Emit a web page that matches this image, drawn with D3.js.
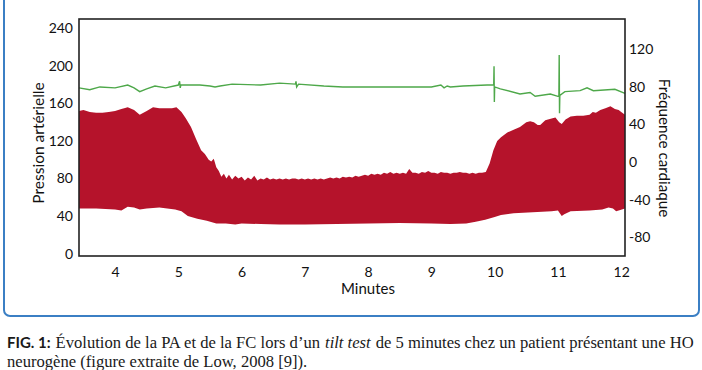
<!DOCTYPE html>
<html>
<head>
<meta charset="utf-8">
<script src="https://cdn.jsdelivr.net/npm/d3@7"></script>
<style>
  body { margin: 0; background: #fff; }
  svg text { font-family: Lato, "Open Sans", sans-serif; fill: #111; }
  .cap { font-family: "Liberation Serif", "DejaVu Serif", serif; font-size: 16.6px; fill: #1a1a1a; }
</style>
</head>
<body>
<div id="chart"></div>
<script>
// minutes on the x axis
var xTicks = [4, 5, 6, 7, 8, 9, 10, 11, 12];
var leftTicks = [0, 40, 80, 120, 160, 200, 240];
var rightTicks = [-80, -40, 0, 40, 80, 120];

// systolic envelope (top of red band), pression artérielle
var sysT = [3.43, 3.5, 3.6, 3.7, 3.8, 3.9, 4.0, 4.1, 4.2, 4.3, 4.39, 4.5, 4.6, 4.7, 4.8, 4.9, 4.97, 5.05, 5.12, 5.2, 5.28, 5.36, 5.42, 5.48, 5.52, 5.56, 5.6, 5.64, 5.68, 5.72, 5.76, 5.8, 5.85, 5.9, 5.95, 6.0, 6.05, 6.1, 6.15, 6.2, 6.25, 6.3, 6.35, 6.4, 6.45, 6.5, 6.55, 6.6, 6.65, 6.7, 6.75, 6.8, 6.85, 6.9, 6.95, 7.0, 7.05, 7.1, 7.15, 7.2, 7.25, 7.3, 7.35, 7.4, 7.45, 7.5, 7.55, 7.6, 7.65, 7.7, 7.75, 7.8, 7.85, 7.9, 7.95, 8.0, 8.05, 8.1, 8.15, 8.2, 8.25, 8.3, 8.35, 8.4, 8.45, 8.5, 8.55, 8.6, 8.65, 8.7, 8.75, 8.8, 8.85, 8.9, 8.95, 9.0, 9.05, 9.1, 9.15, 9.2, 9.25, 9.3, 9.35, 9.4, 9.45, 9.5, 9.55, 9.6, 9.65, 9.7, 9.75, 9.8, 9.86, 9.92, 9.98, 10.04, 10.1, 10.2, 10.3, 10.4, 10.5, 10.56, 10.62, 10.68, 10.72, 10.8, 10.9, 10.96, 11.02, 11.06, 11.12, 11.2, 11.3, 11.4, 11.5, 11.55, 11.6, 11.67, 11.75, 11.83, 11.9, 11.96, 12.0, 12.06];
var sysV = [152, 153, 151, 150, 150, 151, 152, 154, 156, 153, 148, 152, 156, 155, 155, 155, 156, 151, 144, 135, 122, 110, 106, 100, 98, 101, 92, 88, 82, 85, 80, 84, 79, 83, 80, 82, 78, 81, 79, 83, 78, 80, 79, 81, 79, 80, 79, 80, 79, 80, 79, 80, 80, 79, 80, 79, 80, 79, 80, 79, 80, 79, 80, 81, 80, 81, 80, 82, 81, 82, 81, 83, 82, 83, 84, 83, 85, 84, 85, 84, 86, 85, 87, 85, 86, 85, 86, 85, 90, 86, 86, 85, 87, 86, 88, 86, 86, 85, 87, 86, 86, 85, 86, 86, 87, 86, 86, 85, 86, 85, 86, 86, 87, 96, 110, 120, 124, 129, 132, 135, 140, 141, 140, 137, 137, 142, 144, 145, 140, 138, 143, 146, 147, 147, 148, 151, 150, 153, 155, 157, 154, 153, 151, 148];

// diastolic envelope (bottom of red band)
var diaT = [3.43, 3.7, 4.0, 4.1, 4.2, 4.3, 4.39, 4.5, 4.7, 4.95, 5.05, 5.15, 5.3, 5.45, 5.6, 5.75, 5.9, 6.0, 6.3, 6.6, 7.0, 7.5, 8.0, 8.5, 9.0, 9.3, 9.55, 9.7, 9.85, 10.0, 10.1, 10.3, 10.6, 10.9, 11.0, 11.06, 11.1, 11.2, 11.5, 11.7, 11.8, 11.87, 11.92, 11.96, 12.06];
var diaV = [48, 48, 47, 46, 50, 49, 47, 48, 49, 47, 45, 40, 37, 35, 32, 32, 31, 32, 31.5, 31, 31, 31.5, 32, 32.5, 32, 31.5, 32, 34, 36, 39, 41, 43, 44, 45, 46, 40, 42, 45, 46, 47, 49, 48, 45, 46, 48];

// fréquence cardiaque (right axis)
var hrT = [3.43, 3.6, 3.76, 4.0, 4.2, 4.3, 4.39, 4.5, 4.63, 4.8, 5.0, 5.02, 5.03, 5.04, 5.34, 5.5, 5.58, 5.66, 5.85, 6.3, 6.6, 6.85, 6.86, 6.87, 6.9, 7.3, 7.6, 8.0, 8.5, 9.0, 9.15, 9.2, 9.25, 9.3, 9.5, 9.88, 9.985, 9.99, 9.995, 10.0, 10.09, 10.4, 10.56, 10.64, 10.88, 11.0, 11.015, 11.02, 11.025, 11.03, 11.11, 11.35, 11.46, 11.56, 11.9, 12.03, 12.06];
var hrV = [79, 77, 80, 79, 82, 79, 75, 78, 81, 79, 82, 86, 79, 82, 82, 81, 80, 81, 83, 82, 84, 83, 86, 80, 83, 81, 80, 80, 80, 80, 82, 79, 81, 80, 81, 82, 82, 102, 64, 80, 78, 72.5, 74, 70, 72.5, 70, 70, 114, 52, 71, 75, 76, 79, 76, 77.5, 74, 73];

var W = 702, H = 370;
var svg = d3.select("#chart").append("svg")
  .attr("width", W).attr("height", H);

// blue frame round the figure
svg.append("rect")
  .attr("x", 4).attr("y", -12)
  .attr("width", 695).attr("height", 328)
  .attr("rx", 6)
  .attr("fill", "none")
  .attr("stroke", "#3b7fc4")
  .attr("stroke-width", 2);

var pLeft = 79, pRight = 625, pTop = 19, pBottom = 256;

var x = d3.scaleLinear().domain([3.43, 12.06]).range([pLeft, pRight]);
var y = d3.scaleLinear().domain([-2.6, 250]).range([pBottom, pTop]);
// right axis is the same scale shifted
var yR = d3.scaleLinear().domain([-2.6 - 97.6, 250 - 97.6]).range([pBottom, pTop]);

// red band: top envelope forward, bottom envelope back
var pts = sysT.map(function(t, i) { return [x(t), y(sysV[i])]; });
for (var i = diaT.length - 1; i >= 0; i--) pts.push([x(diaT[i]), y(diaV[i])]);
svg.append("path")
  .attr("d", d3.line()(pts) + "Z")
  .attr("fill", "#b5132b");

var hrLine = d3.line()
  .x(function(d) { return x(d[0]); })
  .y(function(d) { return yR(d[1]); });
svg.append("path")
  .datum(hrT.map(function(t, i) { return [t, hrV[i]]; }))
  .attr("d", hrLine)
  .attr("fill", "none")
  .attr("stroke", "#4ea84a")
  .attr("stroke-width", 1.4);

// plot frame
svg.append("rect")
  .attr("x", pLeft).attr("y", pTop)
  .attr("width", pRight - pLeft).attr("height", pBottom - pTop)
  .attr("fill", "none")
  .attr("stroke", "#222")
  .attr("stroke-width", 1.6);

var ax = svg.append("g")
  .attr("transform", "translate(0," + pBottom + ")")
  .call(d3.axisBottom(x).tickValues(xTicks).tickSize(0).tickPadding(11));
ax.select(".domain").remove();

var ay = svg.append("g")
  .attr("transform", "translate(" + pLeft + ",0)")
  .call(d3.axisLeft(y).tickValues(leftTicks).tickSize(0).tickPadding(6));
ay.select(".domain").remove();

var ar = svg.append("g")
  .attr("transform", "translate(" + pRight + ",0)")
  .call(d3.axisRight(yR).tickValues(rightTicks).tickSize(0).tickPadding(4)
    .tickFormat(function(d) { return String(d); }));
ar.select(".domain").remove();

svg.selectAll(".tick text")
  .style("font-size", "14px")
  .style("font-family", "Lato, 'Open Sans', sans-serif")
  .attr("fill", "#111");

svg.append("text")
  .attr("x", 368).attr("y", 294)
  .attr("text-anchor", "middle")
  .style("font-size", "15px")
  .text("Minutes");

svg.append("text")
  .attr("transform", "translate(44,143) rotate(-90)")
  .attr("text-anchor", "middle")
  .style("font-size", "15.5px")
  .text("Pression artérielle");

svg.append("text")
  .attr("transform", "translate(659,148) rotate(90)")
  .attr("text-anchor", "middle")
  .style("font-size", "15.2px")
  .text("Fréquence cardiaque");

// caption, pieces laid one after another
var capParts = [
  { t: "FIG. 1:", fam: "Lato, sans-serif", w: "bold", size: "15px" },
  { t: "Évolution de la PA et de la FC lors d’un", size: "16.6px" },
  { t: "tilt test", it: true, size: "16.6px" },
  { t: "de 5 minutes chez un patient présentant une HO", size: "16.6px" }
];
var cx = 7;
capParts.forEach(function(p) {
  var el = svg.append("text").attr("class", "cap")
    .attr("x", cx).attr("y", 348)
    .style("font-size", p.size)
    .text(p.t);
  if (p.fam) el.style("font-family", p.fam);
  if (p.w) el.style("font-weight", p.w);
  if (p.it) el.style("font-style", "italic");
  cx += el.node().getComputedTextLength() + 5;
});
svg.append("text").attr("class", "cap").attr("x", 7).attr("y", 367)
  .text("neurogène (figure extraite de Low, 2008 [9]).");
</script>
</body>
</html>
